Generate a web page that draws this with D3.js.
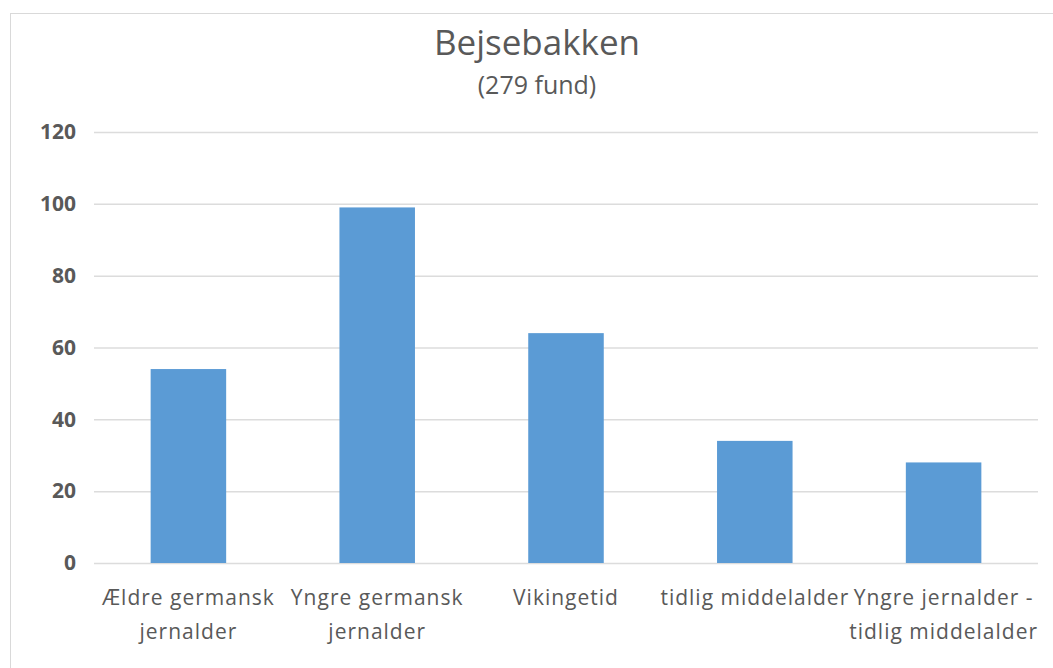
<!DOCTYPE html>
<html>
<head>
<meta charset="utf-8">
<script src="https://cdn.jsdelivr.net/npm/d3@7"></script>
<style>
  body { margin: 0; background: #fff; }
  text { font-family: "Open Sans", "Noto Sans", sans-serif; fill: #595959; }
</style>
</head>
<body>
<svg id="chart"></svg>
<script>
const categories = [
  ["Ældre germansk", "jernalder"],
  ["Yngre germansk", "jernalder"],
  ["Vikingetid"],
  ["tidlig middelalder"],
  ["Yngre jernalder -", "tidlig middelalder"]
];
const values = [54, 99, 64, 34, 28];
const yTicks = [0, 20, 40, 60, 80, 100, 120];
const title = "Bejsebakken";
const subtitle = "(279 fund)";

const W = 1053, H = 668;
const margin = { top: 132, right: 15, bottom: 105, left: 94 };
const width = W - margin.left - margin.right;
const height = H - margin.top - margin.bottom;

const root = d3.select("#chart").attr("width", W).attr("height", H);

// chart frame
root.append("rect")
  .attr("x", 10.5).attr("y", 13.5)
  .attr("width", W).attr("height", H)
  .attr("fill", "none")
  .attr("stroke", "#d9d9d9");

root.append("text")
  .attr("x", 537).attr("y", 55)
  .attr("text-anchor", "middle")
  .style("font-size", "35px")
  .text(title);

root.append("text")
  .attr("x", 537).attr("y", 94)
  .attr("text-anchor", "middle")
  .style("font-size", "25px")
  .text(subtitle);

const svg = root.append("g")
  .attr("transform", `translate(${margin.left},${margin.top})`);

const x = d3.scaleBand()
  .domain(d3.range(categories.length))
  .range([0, width])
  .paddingInner(0.6)
  .paddingOuter(0.3);

const y = d3.scaleLinear()
  .domain([0, 120])
  .range([height, 0]);

const yAxis = d3.axisLeft(y).tickValues(yTicks).tickSize(-width).tickPadding(18);

svg.append("g")
  .attr("class", "y axis")
  .call(yAxis)
  .call(g => g.select(".domain").remove())
  .call(g => g.selectAll(".tick line").attr("stroke", "#dcdcdc").attr("stroke-width", 1.5))
  .call(g => g.selectAll(".tick text")
    .attr("fill", "#595959")
    .style("font-size", "21px")
    .style("font-weight", "bold")
    .style("font-family", "'Open Sans', sans-serif"));

svg.selectAll(".bar")
  .data(values)
  .enter()
  .append("rect")
  .attr("class", "bar")
  .attr("x", (d, i) => x(i))
  .attr("y", d => y(d))
  .attr("width", x.bandwidth())
  .attr("height", d => height - y(d))
  .attr("fill", "#5b9bd5");

const labels = svg.selectAll(".label")
  .data(categories)
  .enter()
  .append("text")
  .attr("class", "label")
  .attr("text-anchor", "middle")
  .style("font-size", "21px")
  .style("letter-spacing", "1px")
  .attr("transform", (d, i) => `translate(${x(i) + x.bandwidth() / 2},${height + 42})`);

labels.selectAll("tspan")
  .data(d => d)
  .enter()
  .append("tspan")
  .attr("x", 0)
  .attr("dy", (d, j) => j === 0 ? 0 : 34)
  .text(d => d);
</script>
</body>
</html>
